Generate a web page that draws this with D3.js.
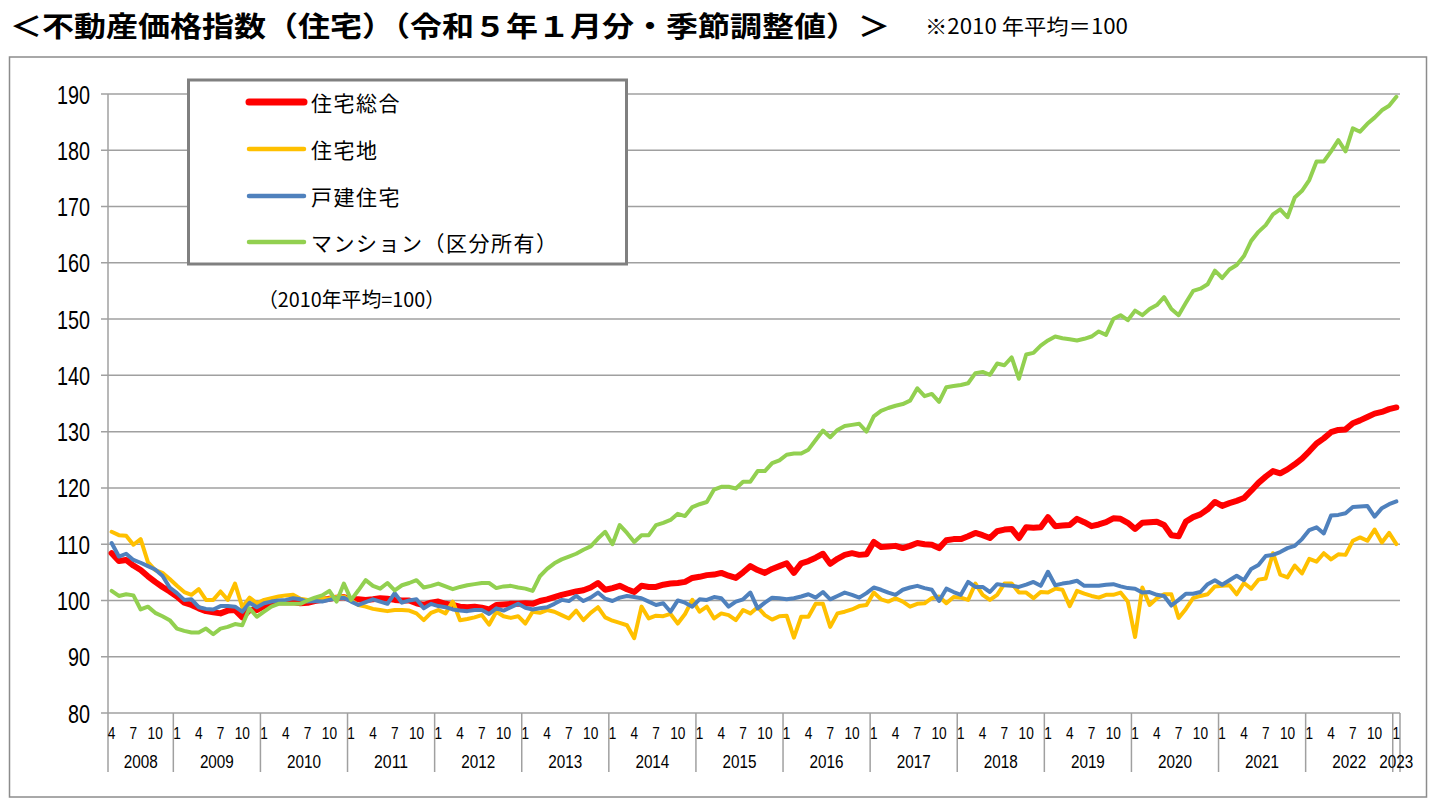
<!DOCTYPE html>
<html>
<head>
<meta charset="utf-8">
<script src="https://cdn.jsdelivr.net/npm/d3@7"></script>
<style>
  body { margin: 0; background: #fff; }
  svg { display: block; }
</style>
</head>
<body>
<svg id="chart" width="1432" height="806"></svg>
<script>
// ---------------- data ----------------
const titleText = "＜不動産価格指数（住宅）（令和５年１月分・季節調整値）＞";
const noteText = "※2010 年平均＝100";
const baseNote = "（2010年平均=100）";

const years = [2008, 2009, 2010, 2011, 2012, 2013, 2014, 2015, 2016, 2017, 2018, 2019, 2020, 2021, 2022, 2023];
const firstMonth = 4;   // data starts April 2008
const lastMonth = 1;    // data ends January 2023
const monthTicks = [1, 4, 7, 10];
const yTicks = [80, 90, 100, 110, 120, 130, 140, 150, 160, 170, 180, 190];

const seriesNames = ["住宅総合", "住宅地", "戸建住宅", "マンション（区分所有）"];
const seriesColors = ["#FF0000", "#FFC000", "#4F81BD", "#92D050"];

// 住宅総合
const sogo = [
  108.4, 107.0, 107.2, 106.2, 105.4, 104.3, 103.3, 102.4, 101.6,                 // 2008 (4-12)
  100.7, 99.6, 99.2, 98.6, 98.1, 97.9, 97.7, 98.2, 98.3, 97.0, 98.3, 98.3,        // 2009
  99.0, 99.4, 99.7, 99.7, 99.7, 99.5, 99.6, 99.9, 100.1, 100.3, 100.5, 100.6,     // 2010
  100.2, 100.2, 100.1, 100.2, 100.4, 100.3, 100.1, 100.0, 100.0, 99.5, 99.2, 99.6, // 2011
  99.8, 99.4, 99.2, 98.9, 98.8, 98.9, 98.7, 98.4, 99.2, 99.3, 99.4, 99.4,         // 2012
  99.5, 99.4, 99.9, 100.2, 100.6, 101.0, 101.3, 101.6, 101.8, 102.3, 103.1, 101.9, // 2013
  102.2, 102.6, 102.0, 101.5, 102.6, 102.4, 102.4, 102.8, 103.0, 103.1, 103.3, 104.0, // 2014
  104.2, 104.5, 104.6, 104.9, 104.4, 104.0, 105.0, 106.1, 105.4, 104.9, 105.6, 106.1, // 2015
  106.6, 104.9, 106.6, 107.0, 107.6, 108.3, 106.5, 107.4, 108.1, 108.4, 108.1, 108.2, // 2016
  110.4, 109.5, 109.6, 109.7, 109.3, 109.7, 110.2, 110.0, 109.9, 109.3, 110.7, 110.9, // 2017
  110.9, 111.4, 112.0, 111.6, 111.1, 112.3, 112.6, 112.7, 111.1, 113.0, 112.9, 113.0, // 2018
  114.8, 113.2, 113.3, 113.4, 114.5, 113.9, 113.2, 113.5, 113.9, 114.6, 114.5, 113.8, // 2019
  112.7, 113.8, 113.9, 114.0, 113.4, 111.6, 111.4, 114.0, 114.8, 115.3, 116.2, 117.5, // 2020
  116.8, 117.3, 117.7, 118.2, 119.5, 120.9, 122.0, 123.0, 122.6, 123.3, 124.2, 125.2, // 2021
  126.5, 127.9, 128.8, 129.9, 130.3, 130.4, 131.5, 132.0, 132.6, 133.2, 133.5, 134.0, // 2022
  134.3                                                                            // 2023 (1)
];

// 住宅地
const takuchi = [
  112.2, 111.6, 111.5, 109.9, 110.9, 106.8, 105.4, 104.9, 103.8,
  102.6, 101.5, 101.0, 102.0, 100.1, 100.1, 101.6, 100.1, 103.0, 98.8, 100.5, 99.5,
  100.1, 100.4, 100.7, 100.9, 101.0, 100.3, 100.1, 100.1, 100.3, 100.4, 100.6, 100.7,
  100.0, 99.2, 98.9, 98.5, 98.3, 98.1, 98.3, 98.3, 98.2, 97.7, 96.5, 97.8,
  98.3, 97.7, 99.8, 96.5, 96.7, 97.0, 97.4, 95.7, 98.0, 97.2, 96.9, 97.2,
  95.9, 98.0, 97.8, 98.3, 98.0, 97.4, 96.8, 98.2, 96.5, 97.8, 98.8, 97.0,
  96.4, 96.0, 95.6, 93.3, 98.9, 96.8, 97.3, 97.2, 97.6, 95.9, 97.6, 100.1,
  98.0, 98.9, 96.8, 97.7, 97.4, 96.5, 98.3, 97.7, 98.8, 97.4, 96.6, 97.2,
  97.3, 93.4, 97.1, 97.1, 99.4, 99.4, 95.3, 97.7, 98.0, 98.4, 99.0, 99.2,
  101.4, 100.2, 99.8, 100.4, 99.8, 98.9, 99.4, 99.5, 100.4, 100.7, 99.5, 100.6,
  100.5, 100.1, 103.0, 101.0, 100.1, 101.0, 103.0, 103.0, 101.4, 101.4, 100.4, 101.5,
  101.4, 102.1, 101.9, 99.0, 101.7, 101.2, 100.8, 100.5, 101.0, 101.0, 101.4, 99.8,
  93.5, 102.3, 99.2, 100.4, 101.1, 101.1, 96.9, 98.5, 100.4, 100.8, 101.1, 102.5,
  102.6, 102.7, 101.1, 103.1, 102.1, 103.7, 103.9, 108.4, 104.6, 104.1, 106.2, 104.8,
  107.4, 106.9, 108.4, 107.3, 108.2, 108.1, 110.6, 111.2, 110.6, 112.6, 110.3, 112.0,
  110.0
];

// 戸建住宅
const kodate = [
  110.2, 107.8, 108.3, 107.2, 106.7, 106.1, 105.5, 104.4, 102.3,
  101.3, 100.1, 100.2, 98.8, 98.5, 98.4, 99.0, 99.0, 98.9, 98.0, 99.6, 98.8,
  99.5, 99.8, 100.0, 100.1, 100.4, 100.2, 99.8, 99.9, 99.8, 100.1, 100.4, 100.5,
  99.8, 99.2, 99.7, 100.2, 99.8, 99.4, 101.3, 99.6, 100.0, 100.2, 98.6, 99.4,
  99.0, 98.8, 98.4, 98.2, 98.1, 98.3, 98.3, 97.6, 98.6, 98.2, 98.8, 99.4,
  98.7, 98.4, 98.6, 98.8, 99.4, 100.1, 99.9, 100.8, 99.9, 100.5, 101.4, 100.3,
  99.9, 100.5, 100.8, 100.6, 100.4, 99.8, 99.2, 99.5, 98.0, 100.0, 99.6, 98.9,
  100.2, 100.1, 100.6, 100.4, 98.9, 99.8, 100.2, 101.4, 98.6, 99.6, 100.5, 100.4,
  100.2, 100.4, 100.7, 101.1, 100.5, 101.5, 100.2, 100.8, 101.4, 101.0, 100.5, 101.3,
  102.3, 101.9, 101.4, 101.0, 101.9, 102.3, 102.6, 102.2, 101.9, 99.9, 102.1, 101.5,
  101.0, 103.3, 102.4, 102.4, 101.5, 102.9, 102.7, 102.6, 102.4, 102.8, 103.3, 102.6,
  105.1, 102.7, 103.0, 103.2, 103.5, 102.6, 102.6, 102.6, 102.8, 102.9, 102.5, 102.2,
  102.1, 101.4, 101.5, 101.0, 100.8, 99.1, 100.1, 101.2, 101.2, 101.5, 102.9, 103.6,
  102.8, 103.6, 104.4, 103.6, 105.6, 106.3, 107.9, 108.1, 108.6, 109.3, 109.7, 110.9,
  112.5, 113.0, 111.9, 115.1, 115.2, 115.5, 116.6, 116.7, 116.8, 114.9, 116.4, 117.1,
  117.6
];

// マンション（区分所有）
const mansion = [
  101.7, 100.8, 101.1, 100.9, 98.4, 98.9, 97.8, 97.2, 96.5,
  95.0, 94.6, 94.3, 94.3, 95.0, 94.0, 95.0, 95.3, 95.8, 95.6, 98.6, 97.1,
  98.0, 98.9, 99.4, 99.4, 99.4, 99.4, 100.0, 100.5, 100.9, 101.7, 99.8, 103.0,
  100.1, 101.8, 103.6, 102.6, 102.1, 103.1, 101.8, 102.7, 103.1, 103.6, 102.3, 102.6,
  103.0, 102.5, 102.0, 102.4, 102.7, 102.9, 103.1, 103.1, 102.2, 102.5, 102.6, 102.3,
  102.1, 101.7, 104.3, 105.6, 106.6, 107.3, 107.8, 108.3, 109.0, 109.6, 111.0, 112.2,
  110.0, 113.4, 112.0, 110.4, 111.6, 111.6, 113.4, 113.8, 114.3, 115.4, 115.0, 116.6,
  117.1, 117.5, 119.7, 120.2, 120.2, 119.9, 121.1, 121.1, 123.0, 123.0, 124.4, 124.9,
  125.9, 126.1, 126.1, 126.8, 128.5, 130.2, 129.0, 130.3, 131.0, 131.2, 131.4, 130.0,
  132.7, 133.7, 134.2, 134.6, 134.9, 135.5, 137.7, 136.3, 136.7, 135.3, 137.9, 138.1,
  138.3, 138.6, 140.4, 140.6, 140.1, 142.1, 141.8, 143.2, 139.4, 143.7, 144.0, 145.3,
  146.2, 146.9, 146.6, 146.4, 146.2, 146.5, 146.9, 147.8, 147.2, 150.0, 150.7, 149.8,
  151.5, 150.7, 151.8, 152.5, 153.9, 151.8, 150.7, 152.9, 155.0, 155.4, 156.2, 158.6,
  157.3, 158.8, 159.6, 161.2, 163.9, 165.5, 166.7, 168.6, 169.5, 168.1, 171.6, 172.8,
  174.7, 178.0, 178.0, 179.8, 181.8, 179.8, 183.9, 183.3, 184.7, 185.8, 187.1, 187.9,
  189.5
];

// ---------------- build categories ----------------
const categories = [];
years.forEach((yr, yi) => {
  const m0 = yi === 0 ? firstMonth : 1;
  const m1 = yi === years.length - 1 ? lastMonth : 12;
  for (let m = m0; m <= m1; m++) categories.push({ year: yr, month: m, idx: categories.length });
});
const seriesData = [sogo, takuchi, kodate, mansion];
seriesData.forEach((s, i) => { if (s.length !== categories.length) console.error("length mismatch", i, s.length, categories.length); });

// ---------------- layout ----------------
const svg = d3.select("#chart");
const plotL = 108, plotR = 1400, plotT = 94, plotB = 713, catB = 772;
const gridColor = "#A0A0A0";
const numFont = "'Liberation Sans Narrow','Arial Narrow','Liberation Sans',sans-serif";
const jpFont = "'Noto Sans CJK JP','Noto Sans',sans-serif";

const x = d3.scaleBand().domain(categories.map(d => d.idx)).range([plotL, plotR]).padding(0);
const y = d3.scaleLinear().domain([80, 190]).range([plotB, plotT]);
const xc = i => x(i) + x.bandwidth() / 2;

// Title
svg.append("text")
  .attr("x", 10).attr("y", 25)
  .attr("dominant-baseline", "central")
  .attr("font-family", jpFont).attr("font-weight", "bold").attr("font-size", 28)
  .attr("textLength", 880).attr("lengthAdjust", "spacingAndGlyphs")
  .attr("fill", "#000")
  .text(titleText);
svg.append("text")
  .attr("x", 925).attr("y", 25)
  .attr("dominant-baseline", "central")
  .attr("font-family", jpFont).attr("font-size", 21)
  .attr("textLength", 203).attr("lengthAdjust", "spacingAndGlyphs")
  .attr("fill", "#000")
  .text(noteText);

// Outer frame
svg.append("rect")
  .attr("x", 9.5).attr("y", 57).attr("width", 1417).attr("height", 740)
  .attr("fill", "none").attr("stroke", "#8C8C8C").attr("stroke-width", 1.5);

// Gridlines (horizontal)
svg.append("g").selectAll("line")
  .data(yTicks)
  .join("line")
  .attr("x1", plotL - 7).attr("x2", plotR)
  .attr("y1", d => y(d)).attr("y2", d => y(d))
  .attr("stroke", gridColor).attr("stroke-width", 1.5);

// Left axis line
svg.append("line")
  .attr("x1", plotL).attr("x2", plotL).attr("y1", plotT).attr("y2", catB)
  .attr("stroke", gridColor).attr("stroke-width", 1.5);

// Y axis labels through d3 axis
const yAxis = d3.axisLeft(y).tickValues(yTicks).tickSize(0).tickPadding(0).tickFormat(d3.format("d"));
const gy = svg.append("g").attr("transform", `translate(${plotL - 18},0)`).call(yAxis);
gy.select(".domain").remove();
gy.selectAll("text")
  .attr("font-family", numFont).attr("font-size", 25).attr("fill", "#000")
  .attr("dy", "0.36em")
  .attr("textLength", d => String(d).length * 11)
  .attr("lengthAdjust", "spacingAndGlyphs");

// Category separators (year boundaries)
const sepIdx = categories.filter(d => d.month === 1).map(d => d.idx);
svg.append("g").selectAll("line")
  .data(sepIdx)
  .join("line")
  .attr("x1", d => x(d)).attr("x2", d => x(d))
  .attr("y1", plotB).attr("y2", catB)
  .attr("stroke", gridColor).attr("stroke-width", 1.5);
svg.append("line")
  .attr("x1", plotR).attr("x2", plotR).attr("y1", plotB).attr("y2", catB)
  .attr("stroke", gridColor).attr("stroke-width", 1.5);

// Month labels
svg.append("g").selectAll("text")
  .data(categories.filter(d => monthTicks.includes(d.month)))
  .join("text")
  .attr("x", d => xc(d.idx)).attr("y", 733)
  .attr("text-anchor", "middle").attr("dominant-baseline", "central")
  .attr("font-family", numFont).attr("font-size", 17).attr("fill", "#000")
  .attr("textLength", d => String(d.month).length * 7.6)
  .attr("lengthAdjust", "spacingAndGlyphs")
  .text(d => d.month);

// Year labels (centered in each year group)
const yearGroups = d3.groups(categories, d => d.year).map(([yr, arr]) => ({
  year: yr,
  cx: (x(arr[0].idx) + x(arr[arr.length - 1].idx) + x.bandwidth()) / 2
}));
svg.append("g").selectAll("text")
  .data(yearGroups)
  .join("text")
  .attr("x", d => d.cx).attr("y", 762)
  .attr("text-anchor", "middle").attr("dominant-baseline", "central")
  .attr("font-family", numFont).attr("font-size", 18).attr("fill", "#000")
  .attr("textLength", 34).attr("lengthAdjust", "spacingAndGlyphs")
  .text(d => d.year);

// Lines
const widths = [6, 4, 4, 4];
const line = d3.line().x((d, i) => xc(i)).y(d => y(d));
svg.append("g").selectAll("path")
  .data(seriesData)
  .join("path")
  .attr("d", d => line(d))
  .attr("fill", "none")
  .attr("stroke", (d, i) => seriesColors[i])
  .attr("stroke-width", (d, i) => widths[i])
  .attr("stroke-linejoin", "round")
  .attr("stroke-linecap", "round");

// Legend
const lg = svg.append("g");
lg.append("rect")
  .attr("x", 188.5).attr("y", 80).attr("width", 438).attr("height", 184)
  .attr("fill", "#fff").attr("stroke", "#808080").attr("stroke-width", 3);
const legendY = [102, 149, 196, 242];
seriesNames.forEach((name, i) => {
  lg.append("line")
    .attr("x1", 249).attr("x2", 304)
    .attr("y1", legendY[i]).attr("y2", legendY[i])
    .attr("stroke", seriesColors[i]).attr("stroke-width", i === 0 ? 7 : 4.5)
    .attr("stroke-linecap", "round");
  lg.append("text")
    .attr("x", 311).attr("y", legendY[i])
    .attr("dominant-baseline", "central")
    .attr("font-family", jpFont).attr("font-size", 21).attr("fill", "#000")
    .attr("letter-spacing", 1.5)
    .text(name);
});

// Base note
svg.append("text")
  .attr("x", 258).attr("y", 298)
  .attr("dominant-baseline", "central")
  .attr("font-family", jpFont).attr("font-size", 20).attr("fill", "#000")
  .attr("textLength", 187).attr("lengthAdjust", "spacingAndGlyphs")
  .text(baseNote);
</script>
</body>
</html>
